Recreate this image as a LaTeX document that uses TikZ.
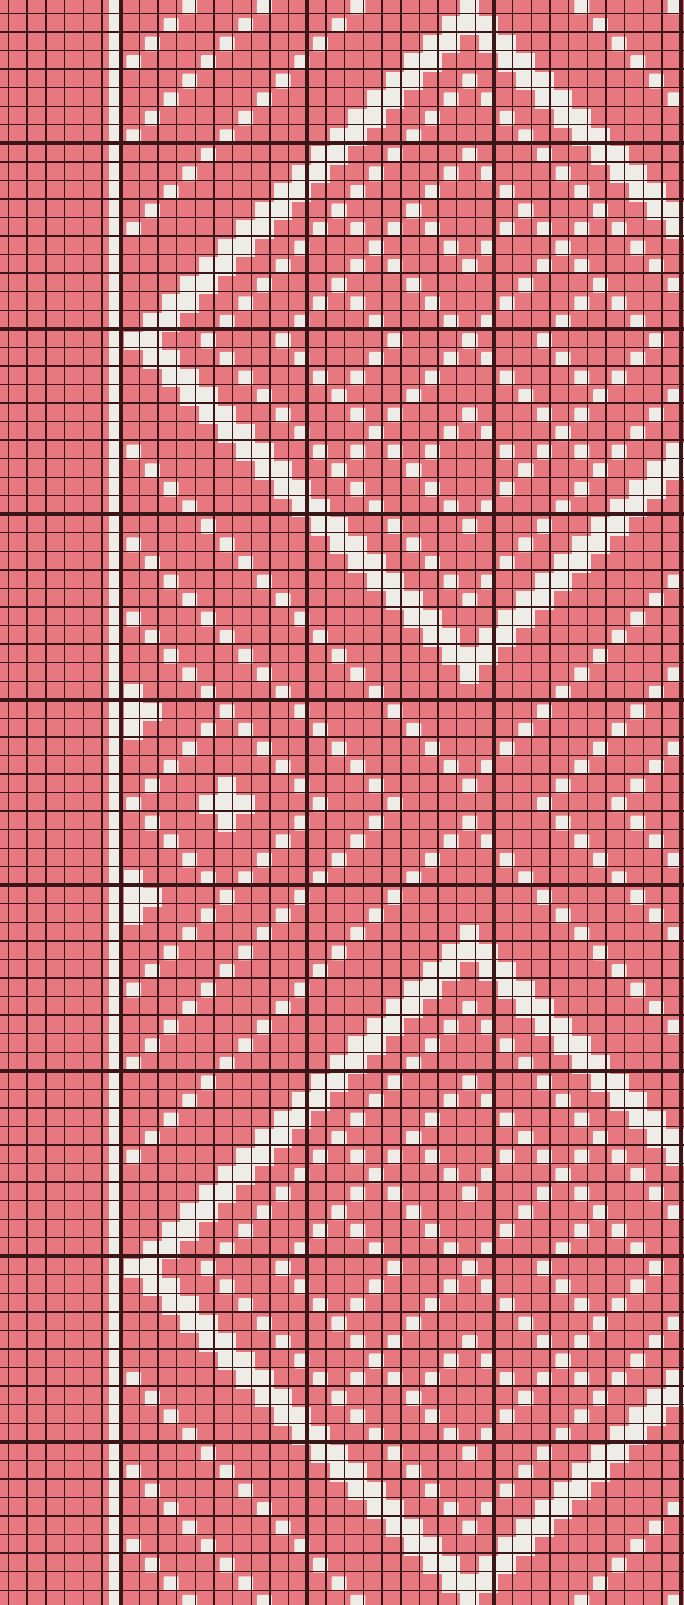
\documentclass[tikz,border=0pt]{standalone}
\definecolor{chartpink}{RGB}{231,120,127}
\definecolor{chartwhite}{RGB}{238,236,231}
\definecolor{chartline}{RGB}{58,22,24}
\newcommand{\knit}[2]{\fill[chartwhite] (#1,#2) rectangle ++(1,1);}
\newcommand{\purl}[2]{\fill[chartwhite, rounded corners=0.8pt] ({#1+0.1},{#2+0.1}) rectangle ++(0.8,0.8);}
\begin{document}
\begin{tikzpicture}[
        x={(0.5cm,0cm)},
        y={(0cm,-0.4968cm)},
        finegrid/.style={draw=chartline, line width=1pt},
        fivegrid/.style={draw=chartline, line width=1.4pt},
        tengrid/.style={draw=chartline, line width=3.2pt}
    ]
    \def\cx{18}
    \def\sx{5}
    \def\sy{35}

    \useasboundingbox (-6.465,-7.725) rectangle (30.172,78.8);
    \clip (-6.465,-7.725) rectangle (30.172,78.8);
    \fill[chartpink] (-7,-8) rectangle (31,79);
    \fill[chartwhite] (-0.62,-8) rectangle (0,79);

    \begin{scope}[shift={(0.2,0.15)}]
        \clip (-0.2,-9) rectangle (31,80);
        \foreach \R in {10,60} {
            \foreach \d in {17,18} {
                \foreach \u in {-\d,...,\d} {
                    \pgfmathtruncatemacro\v{\d-abs(\u)}
                    \knit{\cx+\u}{\R+\v}
                    \knit{\cx+\u}{\R-\v}
                }
            }
            \foreach \d in {10,14,24} {
                \foreach \u in {-\d,...,\d} {
                    \pgfmathtruncatemacro\v{\d-abs(\u)}
                    \purl{\cx+\u}{\R+\v}
                    \purl{\cx+\u}{\R-\v}
                }
            }
            \foreach \u in {4,...,18} {
                \pgfmathtruncatemacro\v{29-\u}
                \purl{\cx-\u}{\R+\v}
                \purl{\cx-\u}{\R-\v}
                \purl{\cx+\u}{\R+\v}
                \purl{\cx+\u}{\R-\v}
            }
            \foreach \u in {8,...,18} {
                \pgfmathtruncatemacro\v{33-\u}
                \purl{\cx-\u}{\R+\v}
                \purl{\cx-\u}{\R-\v}
                \purl{\cx+\u}{\R+\v}
                \purl{\cx+\u}{\R-\v}
            }
            \foreach \t in {0,...,7} {
                \purl{\cx+\t}{\R+\t}
                \purl{\cx-\t}{\R+\t}
                \purl{\cx+\t}{\R-\t}
                \purl{\cx-\t}{\R-\t}
            }
            \foreach \t in {0,...,3} {
                \pgfmathtruncatemacro\w{4+\t}
                \purl{\cx+\w}{\R+\t}
                \purl{\cx-\w}{\R+\t}
                \purl{\cx+\w}{\R-\t}
                \purl{\cx-\w}{\R-\t}
                \purl{\cx+\t}{\R+\w}
                \purl{\cx-\t}{\R+\w}
                \purl{\cx+\t}{\R-\w}
                \purl{\cx-\t}{\R-\w}
            }
        }

        \foreach \t in {0,...,4} {
            \purl{\t}{\sy+\t}
            \purl{\t}{\sy-\t}
        }
        \foreach \p/\q in {0/-1,-1/0,0/0,1/0,0/1} {
            \knit{\sx+\p}{\sy+\q}
        }
        \foreach \q in {-5,5} {
            \knit{0}{\sy+\q-1}
            \knit{0}{\sy+\q}
            \knit{1}{\sy+\q}
            \knit{0}{\sy+\q+1}
        }
    \end{scope}

    \foreach \k in {-6,...,30}
        \draw[finegrid] (\k,-8) -- (\k,79);
    \foreach \j in {-7,...,78}
        \draw[finegrid] (-7,\j) -- (31,\j);
    \foreach \k in {-5,5,15,25}
        \draw[fivegrid] (\k,-8) -- (\k,79);
    \foreach \j in {-5,5,...,75}
        \draw[fivegrid] (-7,\j) -- (31,\j);
    \foreach \k in {0,10,20,30}
        \draw[tengrid] (\k,-8) -- (\k,79);
    \foreach \j in {0,10,...,70}
        \draw[tengrid] (-7,\j) -- (31,\j);
\end{tikzpicture}
\end{document}
